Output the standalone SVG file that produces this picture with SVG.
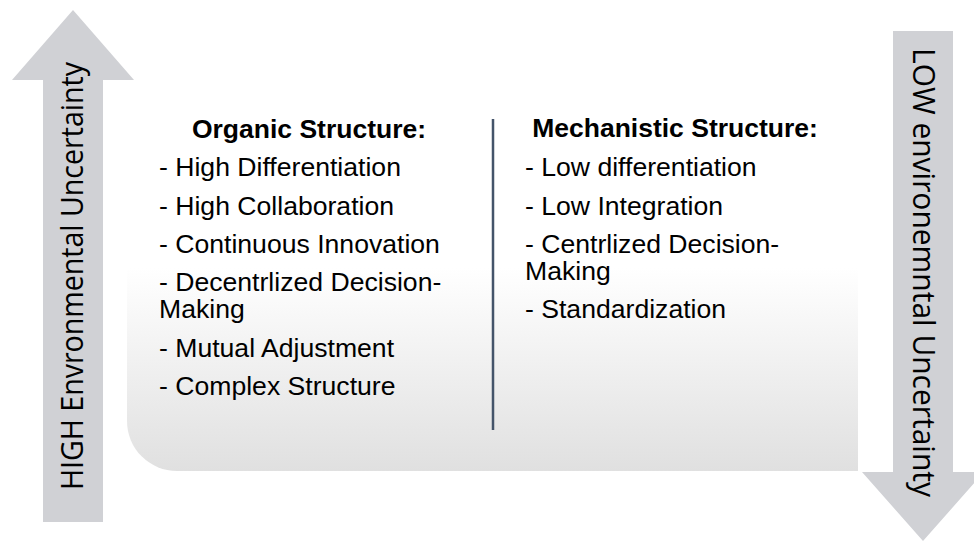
<svg xmlns="http://www.w3.org/2000/svg" width="974" height="543" viewBox="0 0 974 543">
  <style>
    .arrow { fill: #d0d1d5; }
    .vtext { font-family: "Open Sans", "DejaVu Sans", sans-serif; font-size: 30.5px; fill: #000; }
    .title { font-family: "Liberation Sans", Arial, sans-serif; font-size: 26.5px; font-weight: bold; fill: #000; text-anchor: middle; }
    .item { font-family: "Liberation Sans", Arial, sans-serif; font-size: 26.6px; fill: #000; }
  </style>
  <defs>
    <linearGradient id="panelGrad" x1="0" y1="0" x2="0" y2="1">
      <stop offset="0" stop-color="#ffffff"/>
      <stop offset="0.48" stop-color="#ffffff"/>
      <stop offset="1" stop-color="#e0e0e0"/>
    </linearGradient>
  </defs>
  <rect width="974" height="543" fill="#ffffff"/>

  <g id="panel">
    <path d="M127,80 H858 V471 H177 A50,50 0 0 1 127,421 Z" fill="url(#panelGrad)"/>
  </g>

  <g id="high-arrow">
    <polygon class="arrow" points="43,522 43,80 12,80 73,10 134,80 103,80 103,522"/>
    <text class="vtext" transform="translate(83,276) rotate(-90)" text-anchor="middle" textLength="428" lengthAdjust="spacingAndGlyphs">HIGH Envronmental Uncertainty</text>
  </g>

  <g id="low-arrow">
    <polygon class="arrow" points="893,31 953,31 953,472 984,472 923,541 862,472 893,472"/>
    <text class="vtext" transform="translate(913,272.5) rotate(90)" text-anchor="middle" textLength="449" lengthAdjust="spacingAndGlyphs">LOW environemntal Uncertainty</text>
  </g>

  <g id="connectors">
    <line x1="493" y1="119" x2="493" y2="430" stroke="#44546a" stroke-width="2.5"/>
  </g>

  <g id="organic">
    <text class="title" x="309" y="138">Organic Structure:</text>
    <text class="item" x="159" y="176">- High Differentiation</text>
    <text class="item" x="159" y="215">- High Collaboration</text>
    <text class="item" x="159" y="253">- Continuous Innovation</text>
    <text class="item" x="159" y="291">- Decentrlized Decision-</text>
    <text class="item" x="159" y="318">Making</text>
    <text class="item" x="159" y="357">- Mutual Adjustment</text>
    <text class="item" x="159" y="395">- Complex Structure</text>
  </g>

  <g id="mechanistic">
    <text class="title" x="675" y="137">Mechanistic Structure:</text>
    <text class="item" x="525" y="176">- Low differentiation</text>
    <text class="item" x="525" y="215">- Low Integration</text>
    <text class="item" x="525" y="253">- Centrlized Decision-</text>
    <text class="item" x="525" y="280">Making</text>
    <text class="item" x="525" y="318">- Standardization</text>
  </g>
</svg>
